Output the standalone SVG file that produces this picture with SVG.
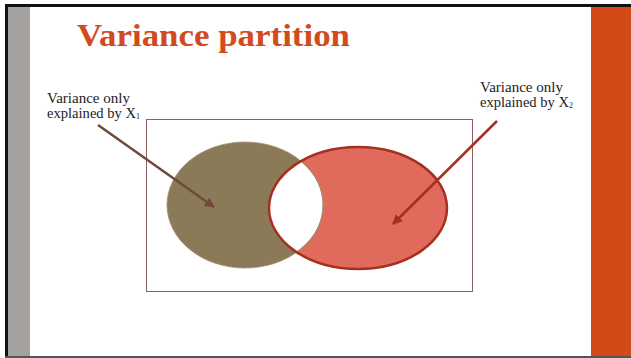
<svg xmlns="http://www.w3.org/2000/svg" width="631" height="358" viewBox="0 0 631 358">
<style>
.lbl{font-family:"Liberation Serif","DejaVu Serif",serif;font-size:14px;fill:#222}
.sub{font-size:8px}
.title{font-family:"Liberation Serif","DejaVu Serif",serif;font-weight:bold;font-size:32px;fill:#D24A1E}
</style>
<defs>
<marker id="ah1" viewBox="0 0 10 10" refX="9" refY="5" markerWidth="4" markerHeight="4" orient="auto" markerUnits="strokeWidth"><path d="M0,0 L10,5 L0,10 z" fill="#6E4A3C"/></marker>
<marker id="ah2" viewBox="0 0 10 10" refX="9" refY="5" markerWidth="4" markerHeight="4" orient="auto" markerUnits="strokeWidth"><path d="M0,0 L10,5 L0,10 z" fill="#A6301F"/></marker>
<clipPath id="clipR"><ellipse cx="358" cy="208" rx="89" ry="61"/></clipPath>
</defs>
<rect x="0" y="0" width="631" height="358" fill="#fff"/>
<g id="frame">
<rect x="8" y="7" width="22" height="349" fill="#A5A19F"/>
<rect x="591" y="7" width="40" height="349" fill="#D24A18"/>
<rect x="5" y="4" width="626" height="3" fill="#111"/>
<rect x="5" y="4" width="3" height="354" fill="#111"/>
<rect x="5" y="356" width="626" height="2" fill="#555"/>
</g>
<g id="title"><text class="title" x="77" y="46" textLength="273" lengthAdjust="spacingAndGlyphs">Variance partition</text></g>
<g id="box"><rect x="146.5" y="119.5" width="326" height="172" fill="none" stroke="#8E6060" stroke-width="1"/></g>
<g id="setX1"><ellipse cx="245" cy="205" rx="78" ry="63" fill="#8B7A57" stroke="#A09070" stroke-width="0.8"/></g>
<g id="setX2"><ellipse cx="358" cy="208" rx="89" ry="61" fill="#E06A5B"/></g>
<g id="overlap"><ellipse cx="245" cy="205" rx="78" ry="63" fill="#fff" stroke="#A09070" stroke-width="1.2" clip-path="url(#clipR)"/>
<ellipse cx="358" cy="208" rx="89" ry="61" fill="none" stroke="#A6301F" stroke-width="2.5"/></g>
<g id="label1"><text class="lbl" x="47" y="103" textLength="83" lengthAdjust="spacingAndGlyphs">Variance only</text><text class="lbl" x="47" y="118"><tspan textLength="89" lengthAdjust="spacingAndGlyphs">explained by X</tspan><tspan class="sub" dy="1">1</tspan></text></g>
<g id="label2"><text class="lbl" x="480" y="92" textLength="83" lengthAdjust="spacingAndGlyphs">Variance only</text><text class="lbl" x="480" y="107"><tspan textLength="89" lengthAdjust="spacingAndGlyphs">explained by X</tspan><tspan class="sub" dy="1">2</tspan></text></g>
<g id="connectors">
<line x1="98" y1="125" x2="214" y2="207" stroke="#6E4A3C" stroke-width="2.5" marker-end="url(#ah1)"/>
<line x1="497" y1="121" x2="393" y2="224" stroke="#A6301F" stroke-width="2.5" marker-end="url(#ah2)"/>
</g>
</svg>
